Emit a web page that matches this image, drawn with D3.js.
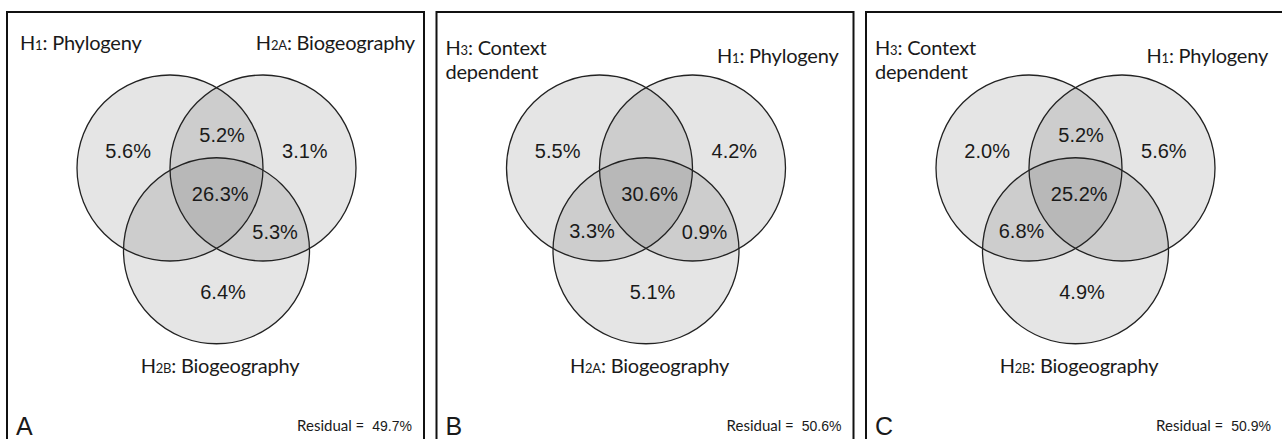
<!DOCTYPE html>
<html>
<head>
<meta charset="utf-8">
<script src="https://cdn.jsdelivr.net/npm/d3@7"></script>
<style>
  body { margin: 0; background: #fff; }
  text { fill: #1a1a1a; }
</style>
</head>
<body>
<div id="chart"></div>
<script>
// panel data
var panelLetters = ["A", "B", "C"];
var residuals = ["49.7%", "50.6%", "50.9%"];
var regionKeys = ["L", "R", "B", "LR", "LB", "RB", "LRB"];
var valuesA = [5.6, 3.1, 6.4, 5.2, null, 5.3, 26.3];
var valuesB = [5.5, 4.2, 5.1, null, 3.3, 0.9, 30.6];
var valuesC = [2.0, 5.6, 4.9, 5.2, 6.8, null, 25.2];
// circle labels: [H, subscript, rest, second line]
var leftLabels = [["H", "1", ": Phylogeny", ""], ["H", "3", ": Context", "dependent"], ["H", "3", ": Context", "dependent"]];
var rightLabels = [["H", "2A", ": Biogeography", ""], ["H", "1", ": Phylogeny", ""], ["H", "1", ": Phylogeny", ""]];
var bottomLabels = [["H", "2B", ": Biogeography", ""], ["H", "2A", ": Biogeography", ""], ["H", "2B", ": Biogeography", ""]];

var allValues = [valuesA, valuesB, valuesC];

var width = 1282, height = 439;
var svg = d3.select("#chart").append("svg")
    .attr("width", width)
    .attr("height", height);

// venn geometry in circle-radius units
var x = d3.scaleLinear().domain([0, 1]).range([170, 263]);
var y = d3.scaleLinear().domain([0, 1]).range([168, 261]);
var r = x(1) - x(0);
var centres = [[0, 0], [1, 0], [0.5, 0.89]];
var anchors = {
    L: [-0.45, -0.11], R: [1.45, -0.11], B: [0.57, 1.41],
    LR: [0.56, -0.28], LB: [-0.08, 0.75], RB: [1.13, 0.76], LRB: [0.54, 0.35]
};
var panelX = d3.scaleLinear().domain([0, 2]).range([0, 859]);

var labelFont = "Lato, 'Open Sans', sans-serif";
var numFont = "'Liberation Sans', Arial, sans-serif";

function hLabel(g, lab, tx, ty, anchor) {
    var t = g.append("text")
        .attr("x", tx).attr("y", ty)
        .attr("text-anchor", anchor)
        .style("font-family", labelFont)
        .style("font-size", "20px")
        .style("letter-spacing", "-0.2px");
    t.append("tspan").text(lab[0]);
    t.append("tspan").style("font-size", "13px").text(lab[1]);
    t.append("tspan").text(lab[2]);
    if (lab[3]) {
        g.append("text")
            .attr("x", tx).attr("y", ty + 24)
            .attr("text-anchor", anchor)
            .style("font-family", labelFont)
            .style("font-size", "20px")
            .style("letter-spacing", "-0.2px")
            .text(lab[3]);
    }
}

panelLetters.forEach(function (letter, i) {
    var g = svg.append("g").attr("transform", "translate(" + panelX(i) + ",0)");

    g.append("rect")
        .attr("x", 7).attr("y", 12)
        .attr("width", 417).attr("height", 470)
        .attr("fill", "none")
        .attr("stroke", "#111")
        .attr("stroke-width", 2);

    g.selectAll("circle.fill")
        .data(centres).enter()
        .append("circle")
        .attr("cx", function (d) { return x(d[0]); })
        .attr("cy", function (d) { return y(d[1]); })
        .attr("r", r)
        .attr("fill", "#000")
        .attr("fill-opacity", 0.1)
        .attr("stroke", "none");

    g.selectAll("circle.line")
        .data(centres).enter()
        .append("circle")
        .attr("cx", function (d) { return x(d[0]); })
        .attr("cy", function (d) { return y(d[1]); })
        .attr("r", r)
        .attr("fill", "none")
        .attr("stroke", "#222")
        .attr("stroke-width", 1.3);

    var vals = allValues[i];
    g.selectAll("text.val")
        .data(regionKeys.filter(function (k, j) { return vals[j] !== null; }))
        .enter()
        .append("text")
        .attr("x", function (k) { return x(anchors[k][0]); })
        .attr("y", function (k) { return y(anchors[k][1]); })
        .attr("text-anchor", "middle")
        .style("font-family", numFont)
        .style("font-size", "20px")
        .text(function (k) { return vals[regionKeys.indexOf(k)].toFixed(1) + "%"; });

    var twoLine = leftLabels[i][3] !== "";
    hLabel(g, leftLabels[i], twoLine ? 16 : 20, twoLine ? 55 : 50, "start");
    hLabel(g, rightLabels[i], twoLine ? 409 : 415, twoLine ? 63 : 50, "end");
    hLabel(g, bottomLabels[i], 220, 373, "middle");

    g.append("text")
        .attr("x", 16).attr("y", 435)
        .style("font-family", numFont)
        .style("font-size", "25px")
        .text(letter);

    var res = g.append("text")
        .attr("x", 412).attr("y", 431)
        .attr("text-anchor", "end")
        .style("font-family", labelFont)
        .style("font-size", "15px");
    res.append("tspan").text("Residual =");
    res.append("tspan").attr("dx", 8)
        .style("font-family", numFont).style("font-size", "14px").text(residuals[i]);
});
</script>
</body>
</html>
